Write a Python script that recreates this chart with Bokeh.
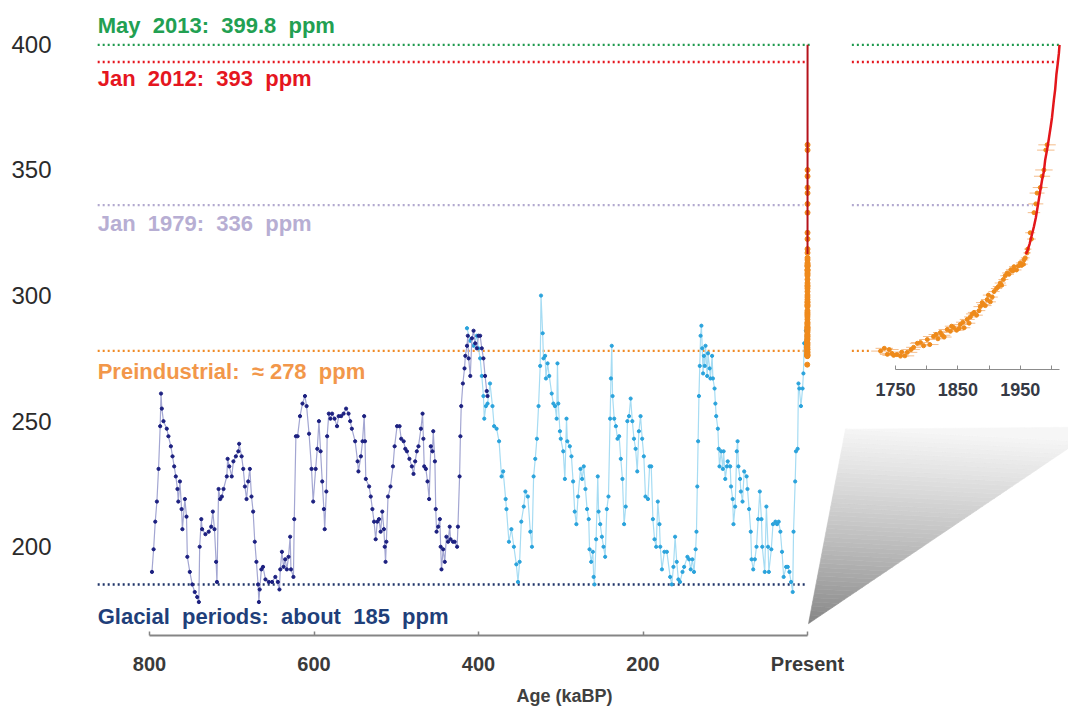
import numpy as np
from bokeh.plotting import figure
from bokeh.models import Range1d, LinearAxis, FixedTicker, Label
from bokeh.embed import file_html
from bokeh.resources import INLINE

# ---------------- data ----------------
# EPICA Dome C (800-390 kaBP): age (kaBP), CO2 (ppm)
epica_age = [797, 795, 793, 791, 789, 787, 786, 785, 783, 779, 777, 774, 772, 770, 768, 766, 765, 763, 761, 760,
             757, 755, 754, 751, 748, 745, 742, 740, 739, 737, 736, 732, 728, 725, 723, 721, 719, 718, 716, 714,
             712, 710, 706, 705, 703, 700, 698, 695, 692, 691, 688, 686, 684, 682, 680, 678, 676, 674, 672, 670,
             668, 667, 666, 664, 662, 659, 655, 651, 647, 644, 642, 641, 639, 637, 635, 633, 631, 629, 628, 625,
             624, 622, 620, 617, 614, 611, 609, 606, 603, 601, 598, 596, 594, 592, 590, 588, 587, 585, 584, 582,
             580, 578, 575, 572, 570, 567, 564, 561, 558, 556, 554, 550, 547, 546, 543, 541, 539, 538, 537, 533,
             531, 529, 527, 525, 523, 521, 519, 517, 515, 514, 513, 512, 510, 507, 504, 502, 499, 496, 494, 491,
             489, 487, 484, 481, 479, 477, 475, 473, 470, 468, 467, 466, 464, 462, 460, 458, 456, 455, 453, 452,
             451, 449, 447, 446, 445, 443, 441, 439, 437, 435, 434, 431, 429, 426, 425, 423, 422, 421, 419, 417,
             416, 414, 413, 412, 410, 408, 406, 404, 402, 400, 398, 396, 394, 392, 390, 389]
epica_co2 = [190, 199, 210, 218, 231, 248, 261, 255, 250, 247, 244, 240, 236, 232, 228, 223, 218, 226, 215, 207,
             219, 212, 196, 190, 185, 182, 180, 178, 200, 211, 207, 205, 206, 208, 214, 207, 194, 186, 223, 219,
             220, 223, 228, 235, 232, 228, 234, 236, 238, 241, 236, 231, 224, 219, 226, 231, 220, 214, 202, 194,
             185, 178, 183, 191, 192, 187, 186, 186, 188, 186, 183, 191, 198, 192, 195, 191, 196, 204, 191, 188,
             211, 244, 244, 252, 257, 260, 256, 245, 231, 218, 231, 239, 250, 238, 226, 215, 207, 222, 244, 253,
             251, 253, 251, 248, 252, 252, 253, 255, 253, 250, 247, 242, 234, 230, 236, 242, 252, 242, 227, 224,
             220, 215, 210, 203, 210, 211, 206, 214, 207, 200, 194, 202, 220, 224, 232, 240, 248, 248, 243, 242,
             239, 238, 235, 232, 229, 234, 238, 240, 247, 253, 243, 232, 231, 226, 219, 240, 238, 246, 234, 215,
             206, 208, 211, 200, 191, 199, 194, 204, 202, 208, 203, 202, 202, 200, 208, 228, 244, 256, 265, 271,
             276, 280, 284, 275, 268, 283, 286, 281, 279, 284, 284, 279, 275, 268, 262, 260]

# Vostok (414-2 kaBP): age (kaBP), CO2 (ppm)
vostok_age = [414, 410, 406, 402, 400, 398, 396, 394, 393, 391, 389, 386, 383, 381, 378, 375, 372, 370, 367, 366,
              363, 360, 357, 354, 352, 350, 348, 345, 343, 340, 337, 335, 333, 331, 329, 327, 325, 324, 322, 321,
              319, 318, 316, 314, 311, 309, 307, 305, 304, 303, 301, 300, 297, 295, 293, 292, 289, 287, 285, 283,
              281, 279, 276, 274, 272, 270, 268, 266, 265, 263, 261, 260, 259, 257, 255, 254, 252, 250, 248, 246,
              244, 242, 240, 239, 238, 237, 235, 233, 231, 229, 227, 225, 223, 221, 219, 217, 215, 213, 211, 209,
              207, 205, 203, 201, 199, 197, 194, 192, 190, 188, 186, 184, 182, 180, 179, 177, 174, 171, 167, 165,
              163, 161, 159, 157, 155, 152, 150, 146, 144, 142, 140, 138, 136, 135, 134, 133, 132, 131, 130, 129,
              128, 127, 126, 125, 124, 122, 121, 119, 118, 116, 115, 113, 112, 111, 109, 108, 107, 105, 103, 102,
              100, 98, 97, 94, 93, 91, 90, 88, 86, 85, 84, 82, 81, 79, 77, 74, 73, 71, 69, 68,
              66, 64, 62, 60, 58, 56, 55, 52, 50, 48, 47, 44, 42, 39, 37, 35, 33, 31, 29, 26,
              24, 22, 20, 18, 17, 15, 14, 12, 11, 10, 8, 6, 5, 4, 2]
vostok_co2 = [287, 282, 280, 284, 279, 275, 268, 260, 251, 256, 257, 265, 256, 248, 247, 242, 228, 230, 219, 215,
              202, 207, 200, 193, 186, 194, 210, 216, 222, 220, 206, 200, 228, 235, 243, 256, 272, 300, 285, 275,
              276, 267, 273, 268, 261, 257, 256, 251, 273, 257, 246, 243, 238, 227, 251, 242, 240, 236, 226, 214,
              209, 220, 231, 227, 232, 223, 215, 211, 199, 194, 198, 188, 185, 203, 228, 214, 209, 204, 200, 196,
              215, 220, 251, 267, 280, 260, 251, 248, 243, 244, 235, 227, 209, 216, 250, 252, 259, 250, 243, 239,
              230, 246, 252, 243, 236, 220, 219, 232, 232, 211, 203, 200, 218, 209, 200, 191, 198, 198, 188, 185,
              192, 204, 194, 187, 186, 190, 192, 196, 195, 191, 195, 190, 199, 206, 224, 242, 260, 272, 284, 288,
              279, 269, 276, 272, 280, 268, 277, 271, 267, 276, 267, 263, 257, 252, 247, 239, 232, 238, 231, 238,
              227, 232, 234, 232, 224, 219, 209, 216, 238, 242, 232, 227, 222, 218, 230, 228, 223, 215, 206, 195,
              191, 195, 200, 211, 222, 211, 200, 190, 216, 200, 190, 199, 209, 210, 209, 210, 206, 198, 188, 192,
              192, 190, 186, 182, 206, 226, 238, 239, 265, 263, 256, 263, 269, 281, 286]

# Law Dome firn/ice (inset): year AD, CO2 (ppm), age uncertainty (years)
lawdome_year = [1726, 1732, 1737, 1740, 1744, 1747, 1752, 1758, 1760, 1765, 1769, 1775, 1779, 1785, 1790, 1795,
                1801, 1805, 1811, 1815, 1818, 1822, 1825, 1828, 1833, 1838, 1840, 1843, 1848, 1852, 1854, 1858,
                1860, 1865, 1868, 1870, 1873, 1876, 1880, 1884, 1886, 1889, 1891, 1894, 1897, 1899, 1902, 1905,
                1908, 1912, 1915, 1918, 1920, 1923, 1926, 1929, 1932, 1935, 1938, 1940, 1944, 1947, 1950, 1952,
                1955, 1956, 1958, 1961, 1962, 1966, 1968, 1972, 1975, 1977, 1982, 1985, 1988, 1991, 1993]
lawdome_co2 = [277.9, 279.0, 276.6, 278.5, 277.0, 276.2, 276.5, 275.9, 277.5, 276.0, 277.4, 278.5, 279.4, 281.0,
               281.3, 280.0, 282.5, 280.5, 283.7, 284.5, 282.8, 285.3, 284.2, 283.5, 286.5, 285.8, 287.8, 287.3,
               286.2, 286.9, 288.5, 289.4, 287.2, 290.5, 289.0, 291.5, 292.7, 293.3, 292.2, 294.0, 295.6, 297.2,
               296.4, 296.0, 298.4, 300.2, 297.5, 299.4, 301.6, 302.8, 303.6, 305.0, 304.1, 306.4, 307.9, 309.0,
               308.5, 310.3, 309.8, 311.5, 310.2, 311.8, 313.0, 312.0, 312.5, 314.2, 315.0, 317.0, 318.5, 325.0,
               322.5, 333.0, 336.5, 340.8, 343.0, 347.5, 350.0, 357.9, 360.0]
lawdome_err = [15, 14, 12, 15, 16, 18, 12, 14, 14, 15, 16, 14, 12, 12, 15, 12,
               13, 14, 17, 12, 12, 12, 13, 12, 14, 12, 11, 11, 12, 12, 13, 11,
               10, 12, 10, 10, 10, 10, 10, 10, 11, 10, 10, 10, 10, 9, 9, 9,
               9, 9, 9, 9, 8, 8, 8, 8, 8, 8, 8, 8, 8, 7, 7, 7,
               7, 7, 7, 6, 6, 8, 7, 10, 12, 12, 12, 13, 14, 14, 14]
# Older Law Dome values (only visible in the main panel)
holocene_year = [1000, 1200, 1400, 1550, 1610, 1650]
holocene_co2 = [279.5, 281.5, 280.5, 282.0, 272.5, 276.0]

# Mauna Loa: year AD, CO2 (ppm)
mlo_year = [1959, 1961, 1965, 1970, 1972, 1975, 1980, 1985, 1988, 1990, 1993, 1995, 1999, 2001, 2004, 2006,
            2008, 2010, 2012, 2013]
mlo_co2 = [316.5, 317.5, 320.5, 325.5, 327.5, 331.0, 338.5, 346.0, 349.5, 354.0, 358.0, 361.0, 367.5, 371.0,
           378.0, 382.0, 388.0, 392.0, 396.5, 399.8]

# reference levels
NB = "\u00a0"
ref_text = ["May" + NB + " 2013:" + NB + " 399.8" + NB + " ppm",
            "Jan" + NB + " 2012:" + NB + " 393" + NB + " ppm",
            "Jan" + NB + " 1979:" + NB + " 336" + NB + " ppm",
            "Preindustrial:" + NB + " \u2248 278" + NB + " ppm",
            "Glacial" + NB + " periods:" + NB + " about" + NB + " 185" + NB + " ppm"]
ref_value = [399.8, 393, 336, 278, 185]
ref_main_end = [-3, 0, 5, 0, 0]          # kaBP where each dotted line stops in the main panel
ref_inset_end = [2013.5, 2012, 1970, 1710, None]  # year AD where it stops in the inset
ref_color = ["#1f9a4e", "#e5161f", "#b2a9cf", "#f08a24", "#1f3468"]
ref_text_color = ["#22a052", "#e5161f", "#b7aed3", "#f2974a", "#1f3f7a"]
ref_text_y = [407.6, 386.5, 328.6, 269.8, 172.2]

main_ticks = [800, 600, 400, 200, 0]
inset_ticks = [1750, 1850, 1950]
inset_minor = [1800, 1900, 2000]
y_ticks = [200, 250, 300, 350, 400]

FONT = "Liberation Sans"

# ---------------- figure ----------------
p = figure(width=1068, height=708,
           x_range=Range1d(908.2, -317.3), y_range=Range1d(164.68, 417.46),
           output_backend="svg", toolbar_location=None,
           min_border_left=60, min_border_right=0, min_border_top=0, min_border_bottom=71,
           x_axis_location=None, y_axis_location="left")
p.extra_x_ranges = {"inset": Range1d(411.0, 2027.4)}
p.grid.visible = False
p.outline_line_color = None
p.background_fill_color = "white"
p.border_fill_color = "white"

# y axis
p.yaxis.ticker = FixedTicker(ticks=y_ticks)
p.yaxis.axis_line_color = None
p.yaxis.major_tick_line_color = None
p.yaxis.major_tick_out = 0
p.yaxis.major_tick_in = 0
p.yaxis.minor_tick_line_color = None
p.yaxis.minor_tick_out = 0
p.yaxis.major_label_standoff = 9
p.yaxis.major_label_text_font = FONT
p.yaxis.major_label_text_font_size = "24px"
p.yaxis.major_label_text_color = "#2b2b2b"

# main x axis
ax = LinearAxis(ticker=FixedTicker(ticks=main_ticks), bounds=(0, 800),
                major_label_overrides={0: "Present"},
                axis_label="Age (kaBP)")
ax.axis_line_color = "#858585"
ax.axis_line_width = 2
ax.major_tick_in = 4
ax.major_tick_out = 0
ax.major_tick_line_color = "#858585"
ax.major_tick_line_width = 1.5
ax.minor_tick_line_color = None
ax.minor_tick_out = 0
ax.major_label_standoff = 17
ax.major_label_text_font = FONT
ax.major_label_text_font_style = "bold"
ax.major_label_text_font_size = "20px"
ax.major_label_text_color = "#3a3a3a"
ax.axis_label_standoff = 8
ax.axis_label_text_font = FONT
ax.axis_label_text_font_style = "bold"
ax.axis_label_text_font_size = "18px"
ax.axis_label_text_color = "#404040"
p.add_layout(ax, "below")

# inset x axis
ix = LinearAxis(x_range_name="inset",
                ticker=FixedTicker(ticks=inset_ticks, minor_ticks=inset_minor),
                bounds=(1750, 2013), fixed_location=270.44)
ix.axis_line_color = "#8c8c8c"
ix.axis_line_width = 1.2
ix.major_tick_in = 4
ix.major_tick_out = 0
ix.minor_tick_in = 4
ix.minor_tick_out = 0
ix.major_tick_line_color = "#8c8c8c"
ix.minor_tick_line_color = "#8c8c8c"
ix.major_label_standoff = 13
ix.major_label_text_font = FONT
ix.major_label_text_font_style = "bold"
ix.major_label_text_font_size = "18px"
ix.major_label_text_color = "#363a45"
p.add_layout(ix, "below")

# ---------------- zoom wedge (gradient) ----------------
P0 = np.array([-1.2, 169.4])
P1 = np.array([-46.2, 246.8])
P2 = np.array([-330.0, 247.6])
P3 = np.array([-330.0, 242.0])
nb = 45
wx, wy, wc = [], [], []
for k in range(nb):
    s0, s1 = k / nb, (k + 1) / nb
    L0, L1 = P0 + s0 * (P1 - P0), P0 + s1 * (P1 - P0)
    R0, R1 = P0 + s0 * (P3 - P0), P0 + s1 * (P3 - P0)
    wx.append([L0[0], L1[0], R1[0], R0[0]])
    wy.append([L0[1], L1[1], R1[1], R0[1]])
    g = int(132 + (247 - 132) * (s0 ** 0.8))
    wc.append("#%02x%02x%02x" % (g, g, g))
wx.append([P1[0], P2[0], P3[0]])
wy.append([P1[1], P2[1], P3[1]])
wc.append("#f6f6f6")
p.patches(wx, wy, fill_color=wc, line_color=wc, line_width=0.6)

# ---------------- reference dotted lines ----------------
for val, col, mend, iend in zip(ref_value, ref_color, ref_main_end, ref_inset_end):
    p.line([863, mend], [val, val], line_color=col, line_width=2.4, line_dash="2 3")
    if iend is not None:
        p.line([1680, iend], [val, val], line_color=col, line_width=2.4, line_dash="2 3",
               x_range_name="inset")

for txt, col, ty in zip(ref_text, ref_text_color, ref_text_y):
    p.add_layout(Label(x=863, y=ty, text=txt, text_color=col, text_font=FONT,
                       text_font_style="bold", text_font_size="22px",
                       text_align="left", text_baseline="middle"))

# ---------------- ice core series ----------------
p.line(vostok_age, vostok_co2, line_color="#a6dcf3", line_width=1.2)
p.scatter(vostok_age, vostok_co2, size=3.2, fill_color="#2aa3dc", line_color="#2aa3dc")
p.line(epica_age, epica_co2, line_color="#a3a6d2", line_width=1.2)
p.scatter(epica_age, epica_co2, size=3.2, fill_color="#1c2080", line_color="#1c2080")

# ---------------- recent data in main panel (kaBP) ----------------
ld_ka = (1950.0 - np.array(lawdome_year + holocene_year)) / 1000.0
p.scatter(ld_ka, lawdome_co2 + holocene_co2, size=5, fill_color="#ef8a1c", line_color="#ef8a1c")
mlo_ka = (1950.0 - np.array(mlo_year)) / 1000.0
p.line(mlo_ka, mlo_co2, line_color="#b5121b", line_width=2)

# ---------------- inset (years AD) ----------------
ly = np.array(lawdome_year)
le = np.array(lawdome_err)
p.segment(x0=ly - le, x1=ly + le, y0=lawdome_co2, y1=lawdome_co2, line_color="#f4bc8a",
          line_width=1, x_range_name="inset")
p.scatter(lawdome_year, lawdome_co2, size=4, fill_color="#ee8a1a", line_color="#ee8a1a",
          x_range_name="inset")
p.line(mlo_year, mlo_co2, line_color="#e3161b", line_width=2.5, x_range_name="inset")

open("out.html", "w").write(file_html(p, INLINE))
